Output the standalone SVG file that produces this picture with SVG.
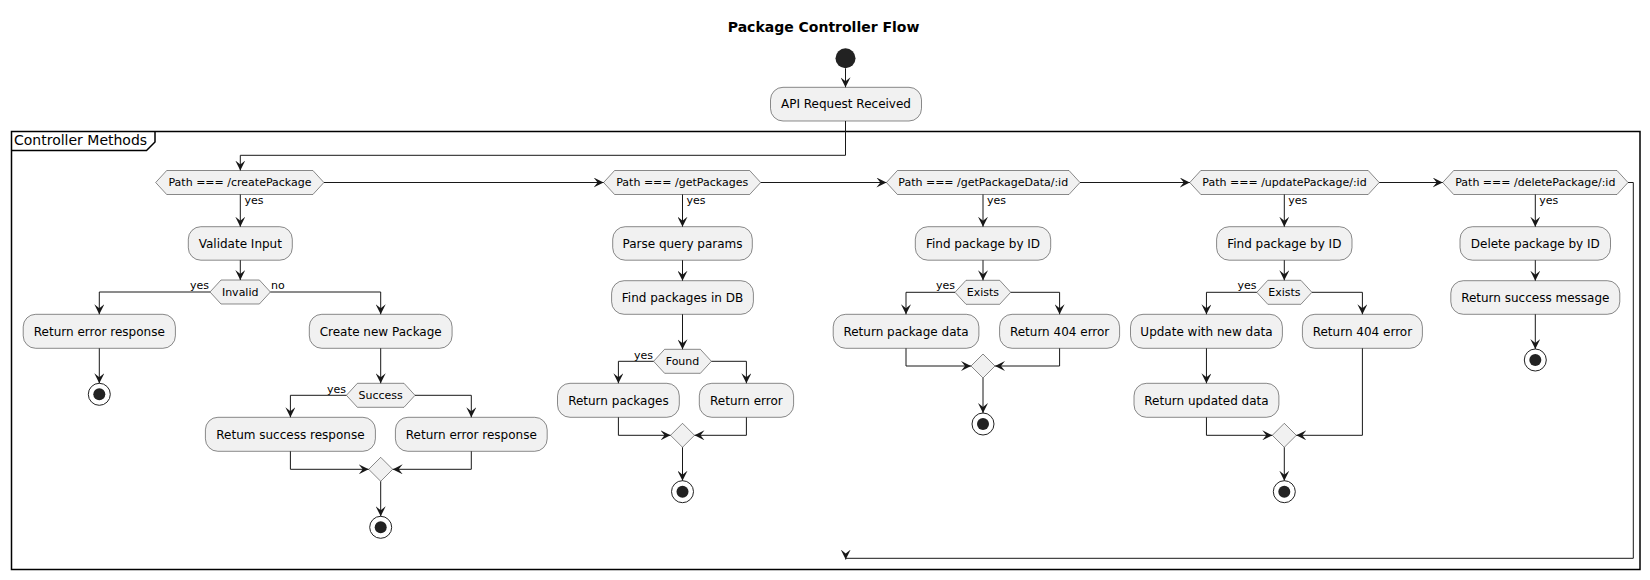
<svg xmlns="http://www.w3.org/2000/svg" width="1650" height="580" viewBox="0 0 1650 580">
<defs>
<style>
.box{fill:#F1F1F1;stroke:#181818;stroke-width:0.5}
.dec{fill:#F1F1F1;stroke:#181818;stroke-width:0.5}
.t12{font-family:"DejaVu Sans",sans-serif;font-size:12px;fill:#000;text-anchor:middle}
.t11{font-family:"DejaVu Sans",sans-serif;font-size:11px;fill:#000;text-anchor:middle}
.lbl{font-family:"DejaVu Sans",sans-serif;font-size:11px;fill:#000}
.end{text-anchor:end}
.title{font-family:"DejaVu Sans",sans-serif;font-size:14px;font-weight:bold;fill:#000;text-anchor:middle}
.frlbl{font-family:"DejaVu Sans",sans-serif;font-size:14px;fill:#000}
.conn path{fill:none;stroke:#181818;stroke-width:1;marker-end:url(#arr)}
.eo{fill:none;stroke:#222;stroke-width:1}
.ei{fill:#222;stroke:none}
</style>
<marker id="arr" viewBox="-10 -5 10 10" refX="0" refY="0" markerWidth="10" markerHeight="10" markerUnits="userSpaceOnUse" orient="auto">
<path d="M0,0 L-10,-5 L-6,0 L-10,5 Z" fill="#181818"/>
</marker>
</defs>
<rect width="1650" height="580" fill="#fff"/>
<text class="title" x="823.6" y="32">Package Controller Flow</text>

<g id="frame">
<rect x="11.5" y="131.5" width="1628.5" height="438" fill="none" stroke="#000" stroke-width="1.5"/>
<path d="M11.5,150.5 L146.5,150.5 L155,142 L155,131.5" fill="none" stroke="#000" stroke-width="1.5"/>
<text class="frlbl" x="14" y="145">Controller Methods</text>
</g>

<g id="start"><circle cx="845.5" cy="58.3" r="10" fill="#222"/></g>
<g id="api"><rect class="box" x="770.5" y="87.3" width="151" height="33.7" rx="12.5"/><text class="t12" x="846" y="108.3">API Request Received</text></g>

<g id="d1"><polygon class="dec" points="155.7,182.5 166.7,170.5 312.9,170.5 323.9,182.5 312.9,194.5 166.7,194.5"/><text class="t11" x="240" y="186.3">Path === /createPackage</text></g>
<g id="validate"><rect class="box" x="188.3" y="226.7" width="104" height="33.5" rx="12.5"/><text class="t12" x="240.3" y="247.6">Validate Input</text></g>
<g id="invalid"><polygon class="dec" points="210,292 221,280 259.4,280 270.4,292 259.4,304 221,304"/><text class="t11" x="240.2" y="296">Invalid</text></g>
<g id="err1"><rect class="box" x="23.2" y="314.3" width="152.2" height="34" rx="12.5"/><text class="t12" x="99.3" y="335.5">Return error response</text></g>
<g id="end1"><circle class="eo" cx="99.3" cy="394.3" r="11"/><circle class="ei" cx="99.3" cy="394.3" r="6"/></g>
<g id="create"><rect class="box" x="309.3" y="314.3" width="142.8" height="34" rx="12.5"/><text class="t12" x="380.7" y="335.5">Create new Package</text></g>
<g id="success"><polygon class="dec" points="346.4,395.3 357.4,383.3 404,383.3 415,395.3 404,407.3 357.4,407.3"/><text class="t11" x="380.7" y="399.3">Success</text></g>
<g id="ok1"><rect class="box" x="205.4" y="417.3" width="170" height="34" rx="12.5"/><text class="t12" x="290.4" y="438.5">Retum success response</text></g>
<g id="err2"><rect class="box" x="395.4" y="417.3" width="151.8" height="34" rx="12.5"/><text class="t12" x="471.3" y="438.5">Return error response</text></g>
<g id="m1"><polygon class="dec" points="380.7,457.3 392.7,469.3 380.7,481.3 368.7,469.3"/></g>
<g id="end2"><circle class="eo" cx="380.7" cy="527.3" r="11"/><circle class="ei" cx="380.7" cy="527.3" r="6"/></g>

<g id="d2"><polygon class="dec" points="603.6,182.5 614.6,170.5 749.7,170.5 760.7,182.5 749.7,194.5 614.6,194.5"/><text class="t11" x="682.2" y="186.3">Path === /getPackages</text></g>
<g id="parse"><rect class="box" x="612.7" y="226.7" width="139.6" height="33.5" rx="12.5"/><text class="t12" x="682.5" y="247.6">Parse query params</text></g>
<g id="findp"><rect class="box" x="611.6" y="280.7" width="141.8" height="33.6" rx="12.5"/><text class="t12" x="682.5" y="301.7">Find packages in DB</text></g>
<g id="found"><polygon class="dec" points="653.6,361.3 664.6,349.3 700.4,349.3 711.4,361.3 700.4,373.3 664.6,373.3"/><text class="t11" x="682.5" y="365.3">Found</text></g>
<g id="retp"><rect class="box" x="557.5" y="383.3" width="121.8" height="34" rx="12.5"/><text class="t12" x="618.4" y="404.5">Return packages</text></g>
<g id="rete"><rect class="box" x="699.3" y="383.3" width="94.3" height="34" rx="12.5"/><text class="t12" x="746.4" y="404.5">Return error</text></g>
<g id="m2"><polygon class="dec" points="682.5,423.3 694.5,435.3 682.5,447.3 670.5,435.3"/></g>
<g id="end3"><circle class="eo" cx="682.5" cy="491.7" r="11"/><circle class="ei" cx="682.5" cy="491.7" r="6"/></g>

<g id="d3"><polygon class="dec" points="886.4,182.5 897.4,170.5 1069,170.5 1080,182.5 1069,194.5 897.4,194.5"/><text class="t11" x="983.2" y="186.3">Path === /getPackageData/:id</text></g>
<g id="find1"><rect class="box" x="915.3" y="226.7" width="135.4" height="33.5" rx="12.5"/><text class="t12" x="983" y="247.6">Find package by ID</text></g>
<g id="exists1"><polygon class="dec" points="955,292.3 966,280.3 999.7,280.3 1010.7,292.3 999.7,304.3 966,304.3"/><text class="t11" x="982.9" y="296.3">Exists</text></g>
<g id="retdata"><rect class="box" x="833.2" y="314.3" width="145.7" height="34" rx="12.5"/><text class="t12" x="906" y="335.5">Return package data</text></g>
<g id="r404a"><rect class="box" x="999.6" y="314.3" width="120" height="34" rx="12.5"/><text class="t12" x="1059.6" y="335.5">Return 404 error</text></g>
<g id="m3"><polygon class="dec" points="983,354 995,366 983,378 971,366"/></g>
<g id="end4"><circle class="eo" cx="983" cy="424" r="11"/><circle class="ei" cx="983" cy="424" r="6"/></g>

<g id="d4"><polygon class="dec" points="1189.8,182.5 1200.8,170.5 1368.2,170.5 1379.2,182.5 1368.2,194.5 1200.8,194.5"/><text class="t11" x="1284.5" y="186.3">Path === /updatePackage/:id</text></g>
<g id="find2"><rect class="box" x="1216.6" y="226.7" width="135.4" height="33.5" rx="12.5"/><text class="t12" x="1284.3" y="247.6">Find package by ID</text></g>
<g id="exists2"><polygon class="dec" points="1256.8,292.3 1267.8,280.3 1300.9,280.3 1311.9,292.3 1300.9,304.3 1267.8,304.3"/><text class="t11" x="1284.35" y="296.3">Exists</text></g>
<g id="update"><rect class="box" x="1130.5" y="314.3" width="151.9" height="34" rx="12.5"/><text class="t12" x="1206.45" y="335.5">Update with new data</text></g>
<g id="r404b"><rect class="box" x="1302.4" y="314.3" width="120" height="34" rx="12.5"/><text class="t12" x="1362.4" y="335.5">Return 404 error</text></g>
<g id="retupd"><rect class="box" x="1134" y="383.3" width="144.9" height="34" rx="12.5"/><text class="t12" x="1206.45" y="404.5">Return updated data</text></g>
<g id="m4"><polygon class="dec" points="1284.3,423.3 1296.3,435.3 1284.3,447.3 1272.3,435.3"/></g>
<g id="end5"><circle class="eo" cx="1284.3" cy="491.7" r="11"/><circle class="ei" cx="1284.3" cy="491.7" r="6"/></g>

<g id="d5"><polygon class="dec" points="1442.7,182.5 1453.7,170.5 1617,170.5 1628,182.5 1617,194.5 1453.7,194.5"/><text class="t11" x="1535.3" y="186.3">Path === /deletePackage/:id</text></g>
<g id="del"><rect class="box" x="1460" y="226.7" width="150.5" height="33.5" rx="12.5"/><text class="t12" x="1535.3" y="247.6">Delete package by ID</text></g>
<g id="retsucc"><rect class="box" x="1450.8" y="280.7" width="169" height="33.6" rx="12.5"/><text class="t12" x="1535.3" y="301.7">Return success message</text></g>
<g id="end6"><circle class="eo" cx="1535.3" cy="360" r="11"/><circle class="ei" cx="1535.3" cy="360" r="6"/></g>

<g id="connectors" class="conn">
<path d="M845.5,68.3 V87.3"/>
<path d="M845.5,121 V155.3 H240.3 V170.5"/>
<path d="M240.3,194.5 V226.7"/>
<path d="M240.3,260.2 V280"/>
<path d="M210,292 H99.3 V314.3"/>
<path d="M270.4,292 H380.7 V314.3"/>
<path d="M99.3,348.3 V383.3"/>
<path d="M380.7,348.3 V383.3"/>
<path d="M346.4,395.3 H290.4 V417.3"/>
<path d="M415,395.3 H471.3 V417.3"/>
<path d="M290.4,451.3 V469.3 H368.7"/>
<path d="M471.3,451.3 V469.3 H392.7"/>
<path d="M380.7,481.3 V516.3"/>
<path d="M323.9,182.5 H603.6"/>
<path d="M682.5,194.5 V226.7"/>
<path d="M682.5,260.2 V280.7"/>
<path d="M682.5,314.3 V349.3"/>
<path d="M653.6,361.3 H618.4 V383.3"/>
<path d="M711.4,361.3 H746.4 V383.3"/>
<path d="M618.4,417.3 V435.3 H670.5"/>
<path d="M746.4,417.3 V435.3 H694.5"/>
<path d="M682.5,447.3 V480.7"/>
<path d="M760.7,182.5 H886.4"/>
<path d="M983,194.5 V226.7"/>
<path d="M983,260.2 V280.3"/>
<path d="M955,292.3 H906 V314.3"/>
<path d="M1010.7,292.3 H1059.6 V314.3"/>
<path d="M906,348.3 V366 H971"/>
<path d="M1059.6,348.3 V366 H995"/>
<path d="M983,378 V413"/>
<path d="M1080,182.5 H1189.8"/>
<path d="M1284.3,194.5 V226.7"/>
<path d="M1284.3,260.2 V280.3"/>
<path d="M1256.8,292.3 H1206.45 V314.3"/>
<path d="M1311.9,292.3 H1362.4 V314.3"/>
<path d="M1206.45,348.3 V383.3"/>
<path d="M1206.45,417.3 V435.3 H1272.3"/>
<path d="M1362.4,348.3 V435.3 H1296.3"/>
<path d="M1284.3,447.3 V480.7"/>
<path d="M1379.2,182.5 H1442.7"/>
<path d="M1535.3,194.5 V226.7"/>
<path d="M1535.3,260.2 V280.7"/>
<path d="M1535.3,314.3 V349"/>
<path d="M1628,182.5 H1633.3 V558.3 H845.7 V559.5"/>
</g>

<g id="labels">
<text class="lbl" x="244.5" y="204">yes</text>
<text class="lbl" x="686.5" y="204">yes</text>
<text class="lbl" x="987" y="204">yes</text>
<text class="lbl" x="1288.3" y="204">yes</text>
<text class="lbl" x="1539.3" y="204">yes</text>
<text class="lbl end" x="209" y="289">yes</text>
<text class="lbl" x="271" y="289">no</text>
<text class="lbl end" x="346" y="392.5">yes</text>
<text class="lbl end" x="653" y="358.5">yes</text>
<text class="lbl end" x="955" y="289.3">yes</text>
<text class="lbl end" x="1256.5" y="289.3">yes</text>
</g>
</svg>
